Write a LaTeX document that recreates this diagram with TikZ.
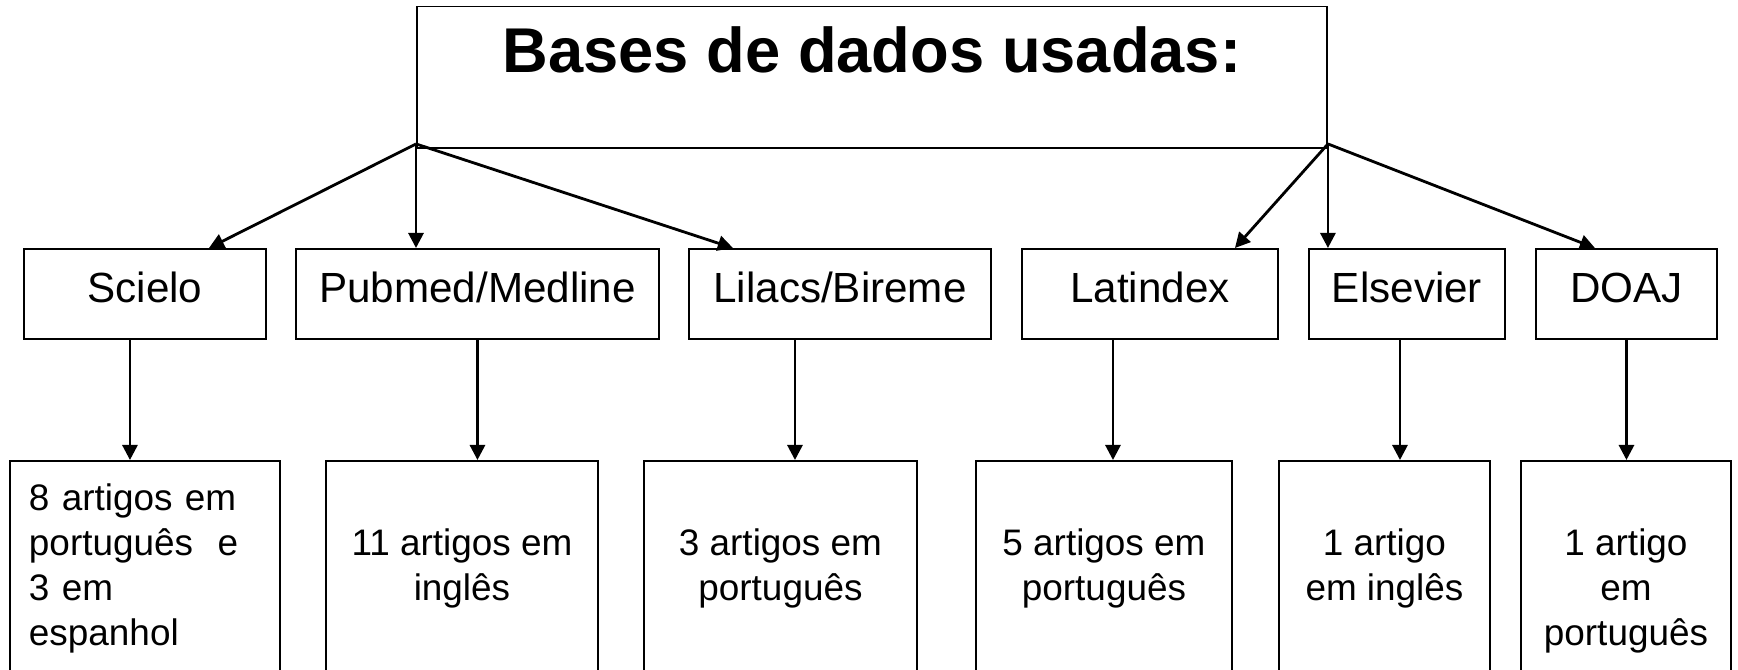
\documentclass[tikz,border=0pt]{standalone}
\usepackage{fontspec}
\setmainfont{Liberation Sans}
\usepackage{tikz}
\usetikzlibrary{arrows.meta,positioning}

\begin{document}
\begin{tikzpicture}[
  box/.style={draw, line width=0.55pt, inner sep=0pt, anchor=north west},
  dbbox/.style={box, font=\fontsize{12}{14}\selectfont, minimum height=0.90cm, text height=9pt, text depth=4.4pt},
  resbox/.style={box, font=\fontsize{10.5}{12.8}\selectfont, align=center, minimum height=2.14cm},
  link/.style={line width=0.8pt, -{Triangle[length=4.3pt,width=4.3pt]}}
]
\useasboundingbox (0,0) rectangle (17.38,-6.69);

\node[box, minimum width=9.10cm, minimum height=1.415cm, font=\fontsize{18}{20}\selectfont\bfseries,
      text height=13pt, text depth=15.5pt] (title) at (4.16,-0.055) {Bases de dados usadas:};
\coordinate (hubL) at ([yshift=0.05cm]title.south west);
\coordinate (hubR) at ([yshift=0.05cm]title.south east);

% bases
\node[dbbox, minimum width=2.42cm] (scielo)   at (0.23,-2.48)  {Scielo};
\node[dbbox, minimum width=3.63cm] (pubmed)   at (2.95,-2.48)  {Pubmed/Medline};
\node[dbbox, minimum width=3.02cm] (lilacs)   at (6.88,-2.48)  {Lilacs/Bireme};
\node[dbbox, minimum width=2.56cm] (latindex) at (10.21,-2.48) {Latindex};
\node[dbbox, minimum width=1.96cm] (elsevier) at (13.08,-2.48) {Elsevier};
\node[dbbox, minimum width=1.81cm] (doaj)     at (15.35,-2.48) {DOAJ};

% resultados
\node[resbox, minimum width=2.70cm, align=left, text width=2.32cm] (res1) at (0.09,-4.60)
  {8 artigos em\\português\ \ e\\3 em\\espanhol};
\node[resbox, minimum width=2.72cm] (res2) at (3.25,-4.60)  {11 artigos em\\inglês};
\node[resbox, minimum width=2.73cm] (res3) at (6.43,-4.60)  {3 artigos em\\português};
\node[resbox, minimum width=2.56cm] (res4) at (9.75,-4.60)  {5 artigos em\\português};
\node[resbox, minimum width=2.11cm] (res5) at (12.78,-4.60) {1 artigo\\em inglês};
\node[resbox, minimum width=2.10cm, minimum height=2.59cm] (res6) at (15.20,-4.60) {1 artigo\\em\\português};

\draw[link] (hubL) -- ([xshift=0.64cm]scielo.north);
\draw[link] (hubL) -- (hubL |- pubmed.north);
\draw[link] (hubL) -- ([xshift=-1.07cm]lilacs.north);
\draw[link] (hubR) -- ([xshift=0.85cm]latindex.north);
\draw[link] (hubR) -- (hubR |- elsevier.north);
\draw[link] (hubR) -- ([xshift=-0.315cm]doaj.north);

\foreach \src/\dst/\dx in {scielo/res1/-0.15, pubmed/res2/0, lilacs/res3/-0.45,
                           latindex/res4/-0.37, elsevier/res5/-0.07, doaj/res6/0}{
  \coordinate (s) at ([xshift=\dx cm]\src.south);
  \draw[link] (s) -- (s |- \dst.north);
}

\end{tikzpicture}
\end{document}
